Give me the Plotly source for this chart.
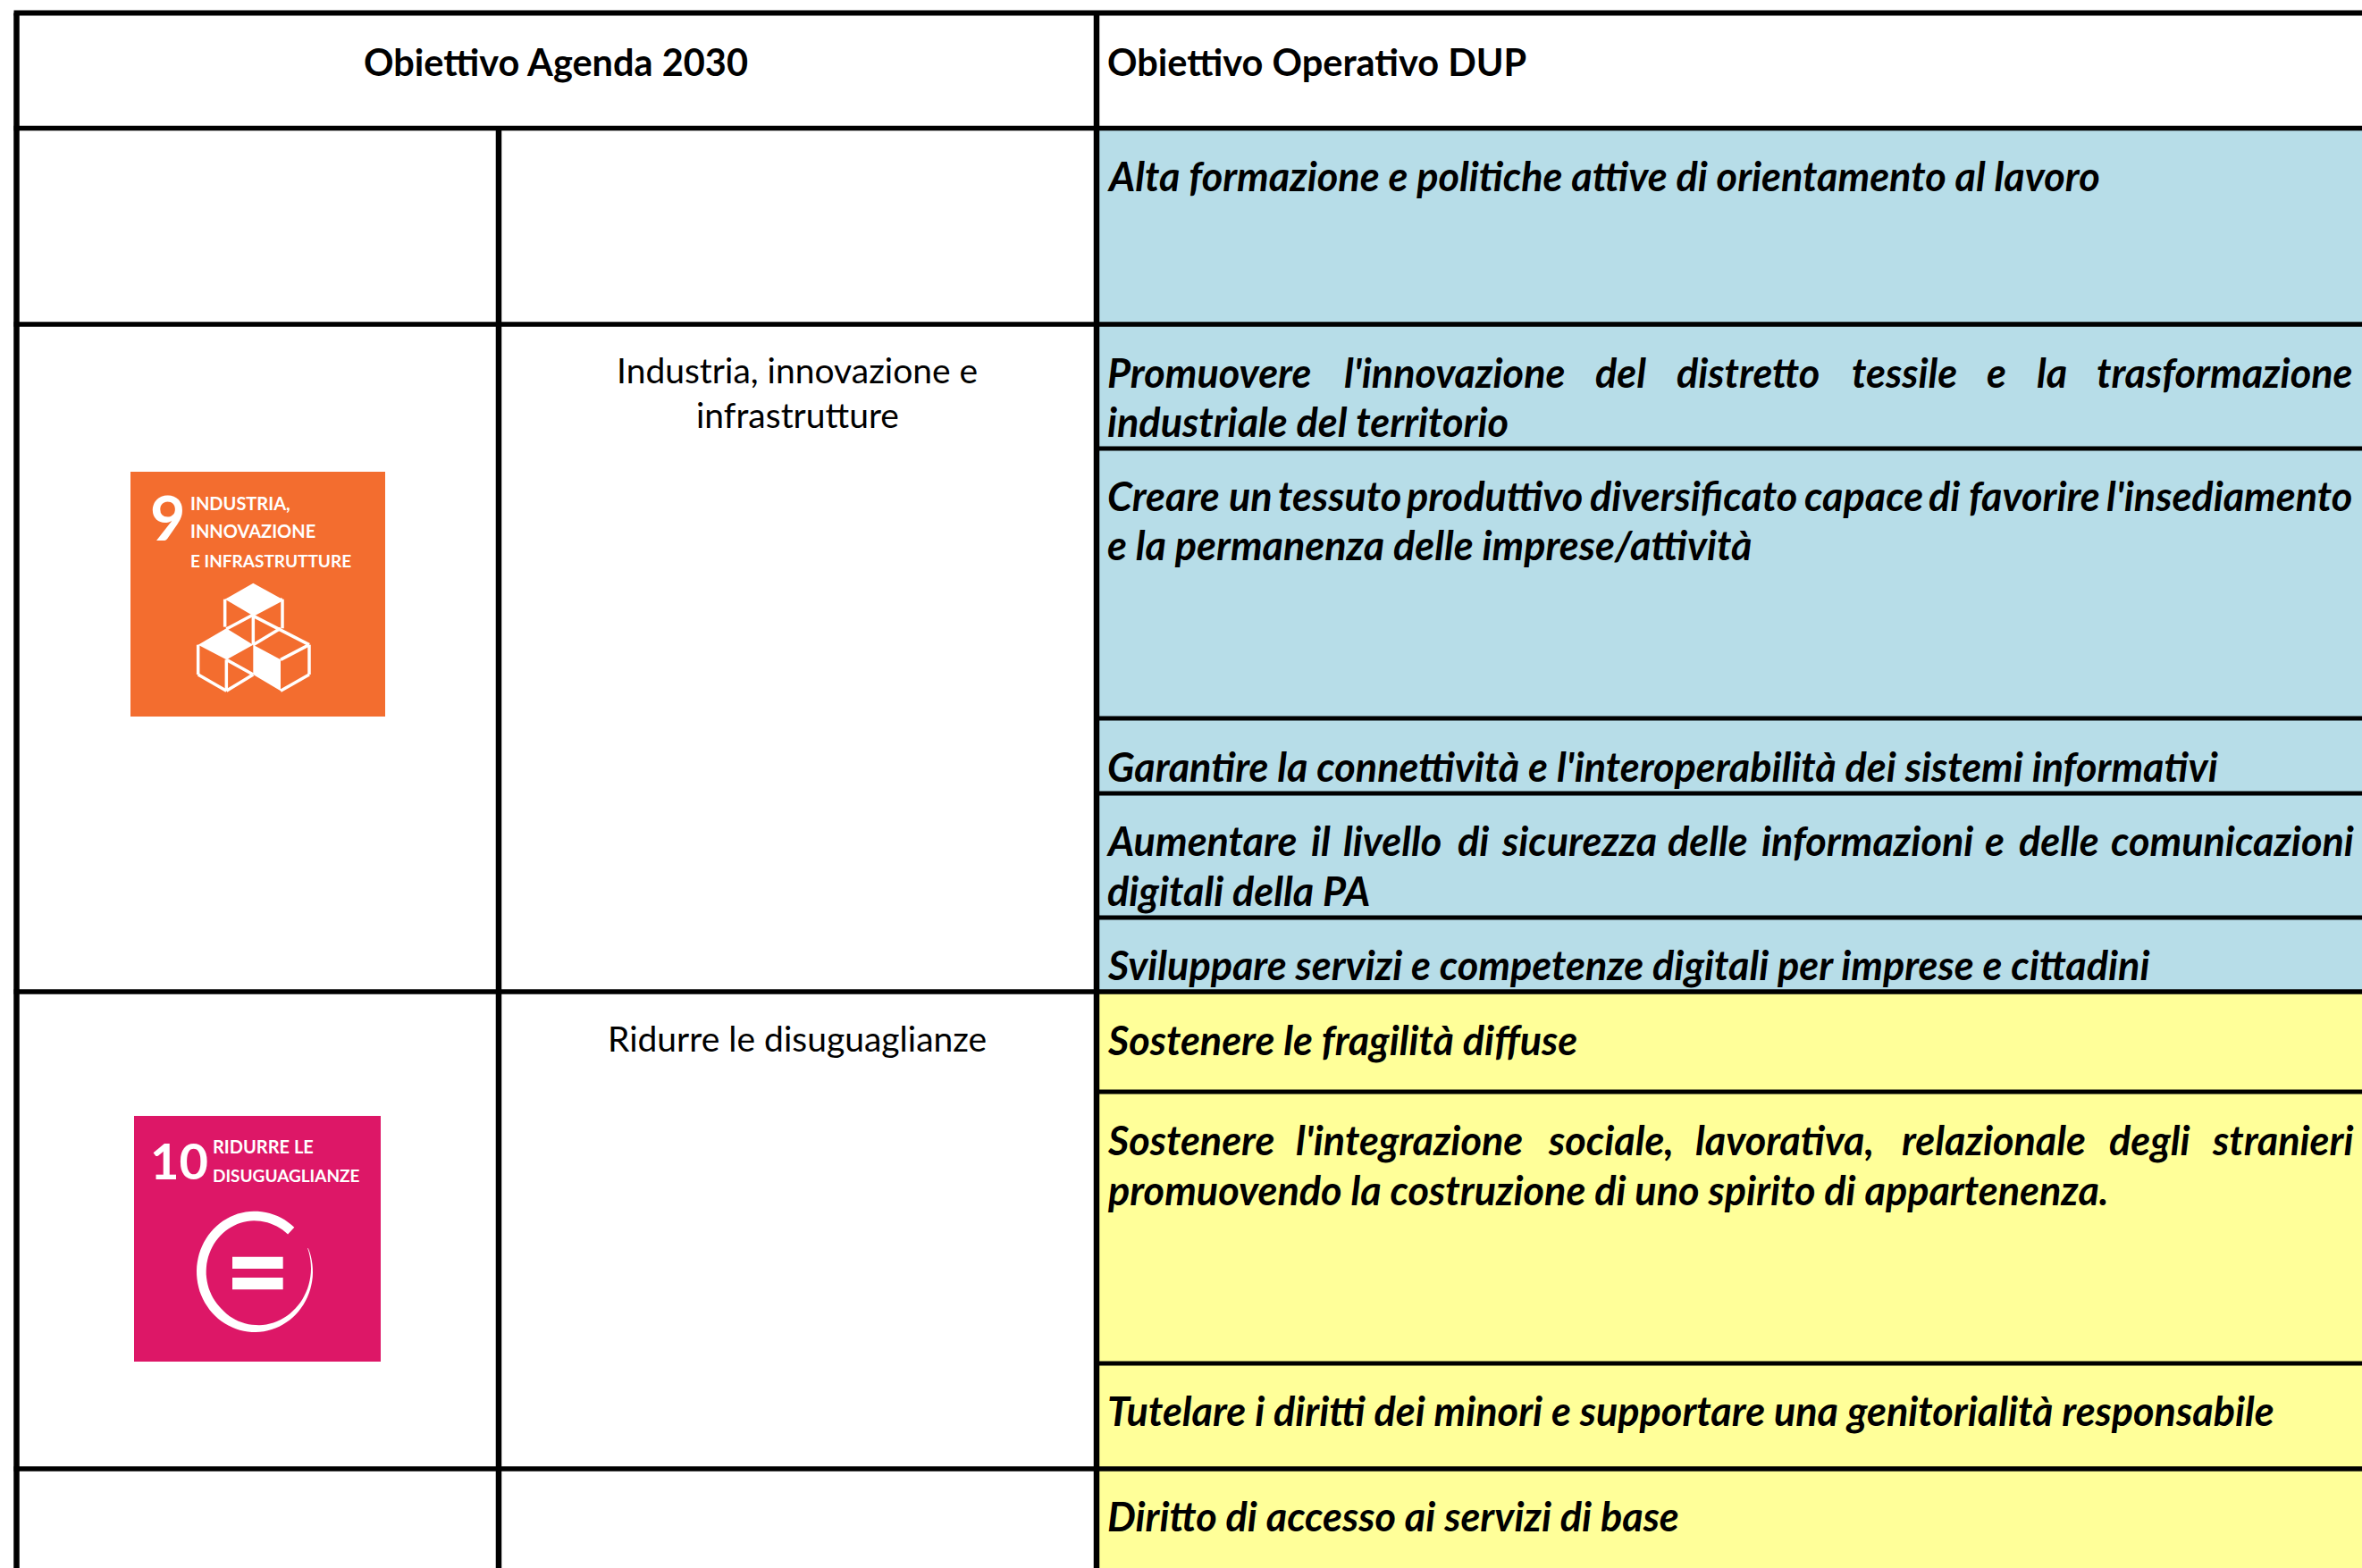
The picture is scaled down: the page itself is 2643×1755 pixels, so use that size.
import numpy as np
import plotly.graph_objects as go

W, H = 2643, 1755
FONT = "Lato"
BLUE = "#B7DDE8"
YELLOW = "#FFFF99"
ORANGE = "#F36D2F"
PINK = "#DD1767"

# Table structure
column_lines = [18.5, 558, 1227]
row_lines = [14.5, 143.5, 363, 502, 804, 888, 1027, 1110, 1222, 1526, 1644]
row_fill = [BLUE, BLUE, BLUE, BLUE, BLUE, BLUE, YELLOW, YELLOW, YELLOW, YELLOW]
fill_edges = row_lines[1:] + [H]
full_width_rows = [14.5, 143.5, 363, 1110, 1644]

# Texts
header_left = "Obiettivo Agenda 2030"
header_right = "Obiettivo Operativo DUP"
goal_names = [("Industria, innovazione e", 414), ("infrastrutture", 464), ("Ridurre le disuguaglianze", 1162)]
plain_lines = [
    ("Alta formazione e politiche attive di orientamento al lavoro", 197),
    ("industriale del territorio", 472),
    ("e la permanenza delle imprese/attività", 610),
    ("Garantire la connettività e l'interoperabilità dei sistemi informativi", 858),
    ("digitali della PA", 997),
    ("Sviluppare servizi e competenze digitali per imprese e cittadini", 1080),
    ("Sostenere le fragilità diffuse", 1164),
    ("promuovendo la costruzione di uno spirito di appartenenza.", 1332),
    ("Tutelare i diritti dei minori e supportare una genitorialità responsabile", 1579),
    ("Diritto di accesso ai servizi di base", 1697),
]
# Justified lines: words and the x where each one starts
justified_lines = [
    (417, ["Promuovere", "l'innovazione", "del", "distretto", "tessile", "e", "la", "trasformazione"],
     [1239, 1504, 1785, 1876, 2072, 2223, 2279, 2346]),
    (555, ["Creare", "un", "tessuto", "produttivo", "diversificato", "capace", "di", "favorire", "l'insediamento"],
     [1239, 1375, 1430, 1573, 1779, 2019, 2158, 2203, 2357]),
    (941, ["Aumentare", "il", "livello", "di", "sicurezza", "delle", "informazioni", "e", "delle", "comunicazioni"],
     [1238, 1467, 1503, 1631, 1680, 1866, 1971, 2221, 2259, 2362]),
    (1276, ["Sostenere", "l'integrazione", "sociale,", "lavorativa,", "relazionale", "degli", "stranieri"],
     [1239, 1450, 1732, 1897, 2128, 2360, 2475]),
]

fig = go.Figure()
shapes = []
annotations = []


def txt(s, x, y, size, color="black", bold=False, italic=False, anchor="left", family=FONT):
    annotations.append(dict(
        text=s, x=x, y=y, xref="x", yref="y", showarrow=False, xanchor=anchor, yanchor="middle",
        borderpad=0, borderwidth=0,
        font=dict(family=family, size=size, color=color, weight=700 if bold else 400,
                  style="italic" if italic else "normal"),
    ))


def rect(x0, y0, x1, y1, color, layer="below"):
    shapes.append(dict(type="rect", x0=x0, y0=y0, x1=x1, y1=y1, xref="x", yref="y",
                       fillcolor=color, line=dict(width=0), layer=layer))


def line(x0, y0, x1, y1, width=5, color="black"):
    shapes.append(dict(type="line", x0=x0, y0=y0, x1=x1, y1=y1, xref="x", yref="y",
                       line=dict(color=color, width=width)))


def poly(pts, color="white", width=0):
    p = "M" + " L".join(f"{a:.1f},{b:.1f}" for a, b in pts) + " Z"
    shapes.append(dict(type="path", path=p, xref="x", yref="y",
                       fillcolor=color, line=dict(color=color, width=width)))


# Cell fills, then grid
for top, bottom, colour in zip(row_lines[1:], fill_edges[1:], row_fill):
    rect(column_lines[2], top, W, bottom, colour)
for y in row_lines:
    x_from = column_lines[0] - 3 if y in full_width_rows else column_lines[2]
    line(x_from, y, W, y, 6 if y == row_lines[0] else 5.5 if y in full_width_rows else 5)
line(column_lines[0], row_lines[0], column_lines[0], H, 6.5)
line(column_lines[1], row_lines[1], column_lines[1], H, 6.5)
line(column_lines[2], row_lines[0], column_lines[2], H, 6.5)

# Texts in the cells
BODY = 45
txt(header_left, 622, 69, 41.5, bold=True, anchor="center")
txt(header_right, 1239, 69, 41.5, bold=True)
for s, y in goal_names:
    txt(s, 892, y, 39, anchor="center")
for s, y in plain_lines:
    txt(s, 1239, y, BODY, bold=True, italic=True)
for y, words, xs in justified_lines:
    for w, x in zip(words, xs):
        txt(w, x, y, BODY, bold=True, italic=True)

# SDG 9 icon
rect(146, 528, 431, 802, ORANGE)
ox, oy = 100, 480


def c9(a, b):
    return (ox + a / 3, oy + b / 3)


txt("9", c9(205, 0)[0], c9(0, 294)[1], 68, "white", bold=True)
txt("INDUSTRIA,", c9(340, 0)[0], c9(0, 250)[1], 20, "white", bold=True)
txt("INNOVAZIONE", c9(340, 0)[0], c9(0, 343)[1], 20, "white", bold=True)
txt("E INFRASTRUTTURE", c9(340, 0)[0], c9(0, 441)[1], 19, "white", bold=True)

poly([c9(550, 518), c9(648, 572), c9(550, 628), c9(455, 572)])
poly([c9(365, 725), c9(460, 670), c9(550, 725), c9(460, 775)])
poly([c9(550, 725), c9(642, 775), c9(642, 880), c9(550, 825)])
for a, b in [
    [(455, 572), (455, 665)], [(648, 572), (648, 670)], [(550, 628), (550, 725)],
    [(550, 628), (738, 725)], [(648, 572), (460, 672)], [(365, 725), (365, 825)],
    [(365, 825), (460, 880)], [(460, 880), (550, 825)], [(460, 775), (460, 880)],
    [(460, 775), (550, 825)], [(738, 725), (738, 825)],
    [(738, 825), (642, 880)], [(738, 725), (642, 775)], [(550, 725), (642, 670)],
]:
    pa, pb = c9(*a), c9(*b)
    line(pa[0], pa[1], pb[0], pb[1], 3.5, "white")

# SDG 10 icon
rect(150, 1249, 426, 1524, PINK)
ox2, oy2 = 100, 1210


def c10(a, b):
    return (ox2 + a / 3, oy2 + b / 3)


txt("10", c10(205, 0)[0], c10(0, 265)[1], 56, "white", bold=True)
txt("RIDURRE LE", c10(415, 0)[0], c10(0, 220)[1], 20, "white", bold=True)
txt("DISUGUAGLIANZE", c10(415, 0)[0], c10(0, 316)[1], 19, "white", bold=True)
rect(*c10(480, 590), *c10(650, 630), "white", "above")
rect(*c10(480, 660), *c10(650, 700), "white", "above")

# Ring: tapered sweep from upper right, counter-clockwise round to the right side
ring_angles = np.radians(np.arange(-47, -47 - 340, -4))
ring_thick = np.concatenate([np.full(45, 32.0), np.linspace(32, 2, len(ring_angles) - 45)])
outer = [c10(555 + 195 * np.cos(t), 640 + 203 * np.sin(t)) for t in ring_angles]
inner = [c10(555 + (195 - w) * np.cos(t), 640 + (203 - w) * np.sin(t)) for t, w in zip(ring_angles, ring_thick)]
poly(outer + inner[::-1])

fig.update_layout(
    width=W, height=H, margin=dict(l=0, r=0, t=0, b=0), autosize=False,
    paper_bgcolor="white", plot_bgcolor="white", showlegend=False,
    xaxis=dict(range=[0, W], visible=False, fixedrange=True),
    yaxis=dict(range=[H, 0], visible=False, fixedrange=True),
    shapes=shapes, annotations=annotations,
)
fig.write_html("out.html", config={"displayModeBar": False},
               post_script="document.body.style.margin='0';document.body.style.overflow='hidden';")
